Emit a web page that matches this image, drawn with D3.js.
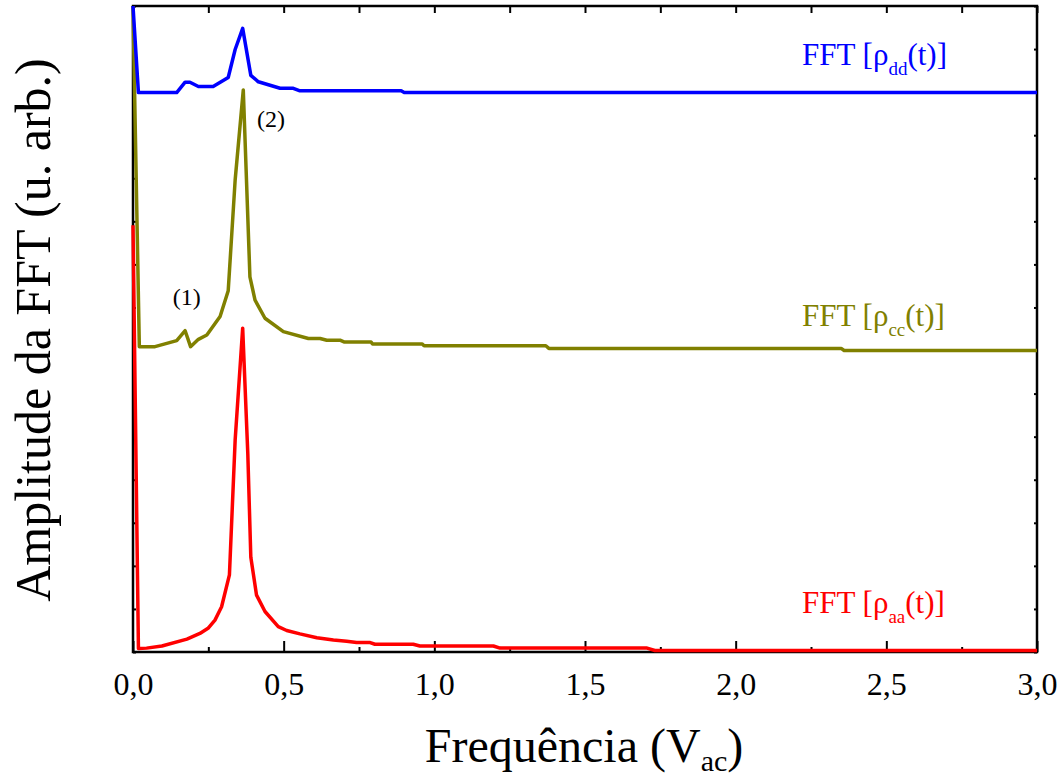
<!DOCTYPE html>
<html>
<head>
<meta charset="utf-8">
<script src="https://cdn.jsdelivr.net/npm/d3@7"></script>
<style>
  body { margin: 0; background: #fff; }
  svg text { font-family: "Liberation Serif", "Times New Roman", serif; }
</style>
</head>
<body>
<div id="chart"></div>
<script>
// Data (y in plot units 0..15, curves are stacked)
let xTickValues = [0, 0.5, 1.0, 1.5, 2.0, 2.5, 3.0];
let xTickLabels = ["0,0", "0,5", "1,0", "1,5", "2,0", "2,5", "3,0"];
let xMinorValues = [0.25, 0.75, 1.25, 1.75, 2.25, 2.75];
let yTickValues = d3.range(0, 16);

// rho_aa (red)
let aaFreq = [0, 0.018, 0.045, 0.096, 0.179, 0.222, 0.249, 0.272, 0.294, 0.320, 0.339, 0.364, 0.381, 0.391, 0.410, 0.438, 0.482, 0.510, 0.554, 0.610, 0.665, 0.709, 0.742, 0.787, 0.803, 0.930, 0.952, 1.196, 1.218, 1.706, 1.732, 3.0];
let aaAmp = [9.91, 0.08, 0.09, 0.14, 0.30, 0.43, 0.55, 0.74, 1.05, 1.79, 4.92, 7.52, 4.6, 2.20, 1.32, 0.94, 0.59, 0.50, 0.42, 0.33, 0.28, 0.25, 0.22, 0.22, 0.18, 0.18, 0.14, 0.14, 0.09, 0.09, 0.035, 0.035];

// rho_cc (olive)
let ccFreq = [0, 0.021, 0.073, 0.145, 0.173, 0.191, 0.217, 0.245, 0.289, 0.316, 0.339, 0.366, 0.388, 0.405, 0.438, 0.499, 0.582, 0.621, 0.643, 0.687, 0.70, 0.79, 0.795, 0.96, 0.966, 1.37, 1.38, 2.35, 2.36, 3.0];
let ccAmp = [15.0, 7.09, 7.09, 7.23, 7.46, 7.09, 7.26, 7.36, 7.79, 8.39, 10.96, 13.05, 8.71, 8.17, 7.75, 7.44, 7.28, 7.28, 7.24, 7.24, 7.20, 7.20, 7.15, 7.15, 7.11, 7.11, 7.05, 7.05, 7.0, 7.0];

// rho_dd (blue)
let ddFreq = [0, 0.018, 0.145, 0.173, 0.189, 0.217, 0.266, 0.316, 0.339, 0.364, 0.391, 0.416, 0.488, 0.532, 0.554, 0.89, 0.90, 3.0];
let ddAmp = [15.0, 12.99, 12.99, 13.23, 13.23, 13.13, 13.13, 13.34, 13.99, 14.48, 13.39, 13.24, 13.09, 13.09, 13.03, 13.03, 12.99, 12.99];

let series = [
  { name: "aa", freq: aaFreq, amp: aaAmp, color: "#ff0000", labelY: 0.9 },
  { name: "cc", freq: ccFreq, amp: ccAmp, color: "#808000", labelY: 7.58 },
  { name: "dd", freq: ddFreq, amp: ddAmp, color: "#0000ff", labelY: 13.62 }
];

let peakNotes = [
  { text: "(1)", x: 0.178, y: 8.05 },
  { text: "(2)", x: 0.458, y: 12.2 }
];

let svgWidth = 1061;
let svgHeight = 778;
let margin = { top: 6, right: 24, bottom: 126, left: 133 };
let width = svgWidth - margin.left - margin.right;
let height = svgHeight - margin.top - margin.bottom;

let svg = d3.select("#chart").append("svg").attr("width", svgWidth).attr("height", svgHeight);
let chartGroup = svg.append("g").attr("transform", `translate(${margin.left}, ${margin.top})`);

let xScale = d3.scaleLinear().domain([0, 3]).range([0, width]);
let yScale = d3.scaleLinear().domain([0, 15]).range([height, 0]);

// Axes and ticks (all pointing inwards)
let styleTicks = g => {
  g.select(".domain").remove();
  g.selectAll(".tick line").attr("stroke", "#000").attr("stroke-width", 2);
};

chartGroup.append("g")
  .attr("transform", `translate(0, ${height})`)
  .call(d3.axisBottom(xScale).tickValues(xMinorValues).tickSize(-5).tickFormat(""))
  .call(styleTicks);

let xAxis = chartGroup.append("g")
  .attr("transform", `translate(0, ${height})`)
  .call(d3.axisBottom(xScale).tickValues(xTickValues).tickSize(-11)
    .tickFormat((d, i) => xTickLabels[i]))
  .call(styleTicks);

xAxis.selectAll("text")
  .attr("y", 43)
  .attr("dy", 0)
  .attr("fill", "#000")
  .style("font-size", "32px");

chartGroup.append("g")
  .call(d3.axisTop(xScale).tickValues(xTickValues.concat(xMinorValues)).tickSize(-7).tickFormat(""))
  .call(styleTicks);

chartGroup.append("g")
  .call(d3.axisLeft(yScale).tickValues(yTickValues).tickSize(-3).tickFormat(""))
  .call(styleTicks);

chartGroup.append("g")
  .attr("transform", `translate(${width}, 0)`)
  .call(d3.axisRight(yScale).tickValues(yTickValues).tickSize(-3).tickFormat(""))
  .call(styleTicks);

chartGroup.append("rect")
  .attr("width", width)
  .attr("height", height)
  .attr("fill", "none")
  .attr("stroke", "#000")
  .attr("stroke-width", 2.5);

// Curves
let line = d3.line()
  .x(d => xScale(d[0]))
  .y(d => yScale(d[1]));

series.forEach(s => {
  let pts = s.freq.map((f, i) => [f, s.amp[i]]);
  chartGroup.append("path")
    .datum(pts)
    .attr("d", line)
    .attr("fill", "none")
    .attr("stroke", s.color)
    .attr("stroke-width", 3.5)
    .attr("stroke-linejoin", "round");
});

// Series labels: FFT [rho_xx(t)]
series.forEach(s => {
  let t = chartGroup.append("text")
    .attr("x", 669)
    .attr("y", yScale(s.labelY))
    .attr("fill", s.color)
    .style("font-size", "31px");
  t.append("tspan").text("FFT [ρ");
  t.append("tspan").attr("dy", 10).style("font-size", "19px").text(s.name);
  t.append("tspan").attr("dy", -10).text("(t)]");
});

// Peak markers
chartGroup.selectAll("text.note")
  .data(peakNotes)
  .enter()
  .append("text")
  .classed("note", true)
  .attr("x", d => xScale(d.x))
  .attr("y", d => yScale(d.y))
  .attr("text-anchor", "middle")
  .style("font-size", "24px")
  .text(d => d.text);

// Axis titles
let xTitle = svg.append("text")
  .attr("x", margin.left + width / 2 - 1)
  .attr("y", 762)
  .attr("text-anchor", "middle")
  .style("font-size", "48px");
xTitle.append("tspan").text("Frequência (V");
xTitle.append("tspan").attr("dy", 9).style("font-size", "30px").text("ac");
xTitle.append("tspan").attr("dy", -9).text(")");

svg.append("text")
  .attr("transform", `translate(50, ${margin.top + 324}) rotate(-90)`)
  .attr("text-anchor", "middle")
  .style("font-size", "50px")
  .text("Amplitude da FFT (u. arb.)");
</script>
</body>
</html>
